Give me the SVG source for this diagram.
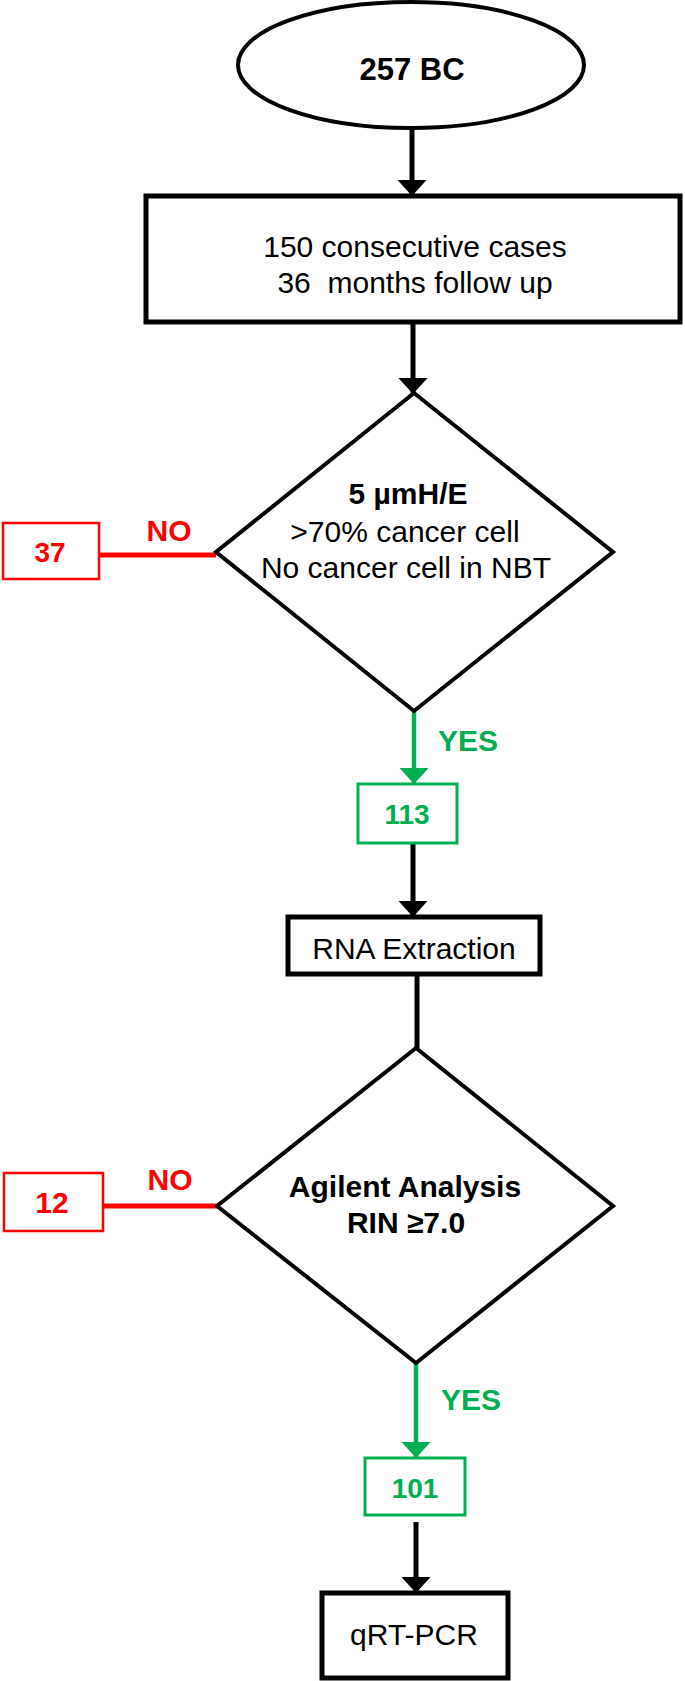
<svg xmlns="http://www.w3.org/2000/svg" width="685" height="1681" viewBox="0 0 685 1681">
<style>
.t{font-family:"Liberation Sans",Arial,sans-serif;font-size:30px;fill:#000;text-anchor:middle}
.b{font-weight:bold}
.red{fill:#ff0000}
.grn{fill:#00b050}
.box{fill:#fff;stroke:#000;stroke-width:5}
.shape{fill:#fff;stroke:#000;stroke-width:4}
.rbox{fill:#fff;stroke:#ff0000;stroke-width:2.5}
.gbox{fill:#fff;stroke:#00b050;stroke-width:3}
.kl{stroke:#000;stroke-width:5;fill:none}
.gl{stroke:#00b050;stroke-width:4.5;fill:none}
.rl{stroke:#ff0000;stroke-width:5;fill:none}
</style>
<defs>
<marker id="ak" markerUnits="userSpaceOnUse" markerWidth="18" markerHeight="30" refX="16" refY="14.5" orient="auto"><path d="M0,0 L16,14.5 L0,29 z" fill="#000"/></marker>
<marker id="ag" markerUnits="userSpaceOnUse" markerWidth="18" markerHeight="30" refX="16" refY="14.5" orient="auto"><path d="M0,0 L16,14.5 L0,29 z" fill="#00b050"/></marker>
</defs>
<rect width="685" height="1681" fill="#fff"/>
<g id="connectors">
<line class="kl" x1="412" y1="128" x2="412" y2="196" marker-end="url(#ak)"/>
<line class="kl" x1="413" y1="322" x2="413" y2="394" marker-end="url(#ak)"/>
<line class="rl" x1="99" y1="555" x2="216" y2="555"/>
<line class="gl" x1="414" y1="711" x2="414" y2="784" marker-end="url(#ag)"/>
<line class="kl" x1="413" y1="843" x2="413" y2="917" marker-end="url(#ak)"/>
<line class="kl" x1="417" y1="974" x2="417" y2="1048"/>
<line class="rl" x1="103" y1="1206" x2="217" y2="1206"/>
<line class="gl" x1="416" y1="1363" x2="416" y2="1458" marker-end="url(#ag)"/>
<line class="kl" x1="416" y1="1522" x2="416" y2="1593" marker-end="url(#ak)"/>
<text class="t b red" x="169" y="541">NO</text>
<text class="t b grn" x="468" y="751">YES</text>
<text class="t b red" x="170" y="1190">NO</text>
<text class="t b grn" x="471" y="1410">YES</text>
</g>
<g id="start">
<ellipse class="shape" cx="411" cy="65" rx="173" ry="63"/>
<text class="t b" x="412" y="80" style="font-size:31px">257 BC</text>
</g>
<g id="cases">
<rect class="box" x="146" y="196" width="534" height="126"/>
<text class="t" x="415" y="257">150 consecutive cases</text>
<text class="t" x="415" y="293" xml:space="preserve">36  months follow up</text>
</g>
<g id="decision1">
<polygon class="shape" points="414,393 613,552 414,711 216,552"/>
<text class="t b" x="408" y="504">5 µmH/E</text>
<text class="t" x="405" y="542">&gt;70% cancer cell</text>
<text class="t" x="406" y="578">No cancer cell in NBT</text>
</g>
<g id="excluded1">
<rect class="rbox" x="3" y="523" width="96" height="56"/>
<text class="t b red" x="50" y="562" style="font-size:28px">37</text>
</g>
<g id="n113">
<rect class="gbox" x="358" y="784" width="99" height="59"/>
<text class="t b grn" x="407" y="824" style="font-size:28px">113</text>
</g>
<g id="rna">
<rect class="box" x="288" y="917" width="252" height="57"/>
<text class="t" x="414" y="959">RNA Extraction</text>
</g>
<g id="decision2">
<polygon class="shape" points="416,1048 613,1206 416,1363 217,1206"/>
<text class="t b" x="405" y="1197">Agilent Analysis</text>
<text class="t b" x="406" y="1233">RIN ≥7.0</text>
</g>
<g id="excluded2">
<rect class="rbox" x="4" y="1173" width="99" height="58"/>
<text class="t b red" x="52" y="1213">12</text>
</g>
<g id="n101">
<rect class="gbox" x="365" y="1458" width="100" height="57"/>
<text class="t b grn" x="415" y="1498" style="font-size:28px">101</text>
</g>
<g id="qrt">
<rect class="box" x="322" y="1593" width="186" height="85"/>
<text class="t" x="414" y="1645">qRT-PCR</text>
</g>
</svg>
